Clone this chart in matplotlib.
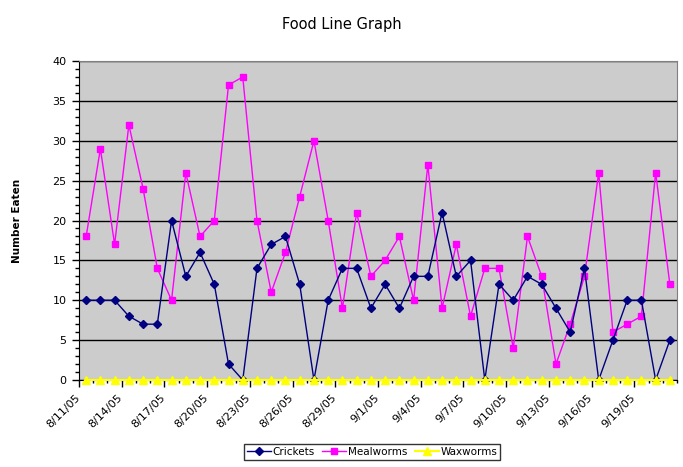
import matplotlib
matplotlib.use('Agg')
import matplotlib.pyplot as plt
import numpy as np
from datetime import date, timedelta

# Daily dates 8/11/05 .. 9/21/05
start = date(2005, 8, 11)
n_days = 42
dates = [start + timedelta(days=i) for i in range(n_days)]
date_labels = [f"{d.month}/{d.day}/05" for d in dates]

crickets = [10, 10, 10, 8, 7, 7, 20, 13, 16, 12, 2, 0, 14, 17, 18, 12, 0, 10, 14, 14, 9,
            12, 9, 13, 13, 21, 13, 15, 0, 12, 10, 13, 12, 9, 6, 14, 0, 5, 10, 10, 0, 5]
mealworms = [18, 29, 17, 32, 24, 14, 10, 26, 18, 20, 37, 38, 20, 11, 16, 23, 30, 20, 9, 21, 13,
             15, 18, 10, 27, 9, 17, 8, 14, 14, 4, 18, 13, 2, 7, 13, 26, 6, 7, 8, 26, 12]
waxworms = [0] * n_days

fig = plt.figure(figsize=(6.83, 4.67), dpi=100)
ax = fig.add_axes([0.1157, 0.1863, 0.8755, 0.683])
ax.set_facecolor('#CCCCCC')

x = np.arange(n_days)
ax.plot(x, crickets, color='#000080', lw=1, marker='D', ms=4, label='Crickets', zorder=4, clip_on=False)
ax.plot(x, mealworms, color='#FF00FF', lw=1, marker='s', ms=5, label='Mealworms', zorder=3, clip_on=False)
ax.plot(x, waxworms, color='#FFFF00', lw=1.5, marker='^', ms=6, label='Waxworms', zorder=5, clip_on=False)

ax.set_xlim(-0.45, n_days - 0.55)
ax.set_ylim(0, 40)

# Y axis
ax.set_yticks(np.arange(0, 41, 5))
ax.set_yticks(np.arange(0, 41, 1), minor=True)
ax.yaxis.grid(True, color='black', lw=1)
ax.set_axisbelow(True)
ax.tick_params(axis='y', which='major', direction='out', length=5, width=1, labelsize=8, pad=4)
ax.tick_params(axis='y', which='minor', direction='out', length=3, width=1)
ax.set_ylabel('Number Eaten', fontsize=7.5, fontweight='bold', labelpad=22)

# X axis: major ticks at category boundaries every 3, labels near categories
label_idx = list(range(0, n_days, 3))
ax.set_xticks([i - 0.5 for i in label_idx])
ax.set_xticklabels([])
ax.set_xticks(np.arange(-0.5, n_days, 1), minor=True)
ax.tick_params(axis='x', which='major', direction='out', length=5, width=1)
ax.tick_params(axis='x', which='minor', direction='out', length=2, width=1)
for i in label_idx:
    ax.text(i - 0.8, -1.6, date_labels[i], rotation=45, ha='right', va='top',
            rotation_mode='anchor', fontsize=8, transform=ax.transData)

for side in ['top', 'right']:
    ax.spines[side].set_color('#808080')
for side in ['left', 'bottom']:
    ax.spines[side].set_color('black')

fig.text(0.5, 0.948, 'Food Line Graph', ha='center', va='center', fontsize=10.5)

leg = ax.legend(loc='center', bbox_to_anchor=(0.545, 0.032), bbox_transform=fig.transFigure,
                ncol=3, fontsize=7.5, frameon=True, fancybox=False, edgecolor='black',
                handlelength=2.3, handletextpad=0.2, columnspacing=0.7, borderpad=0.25)
leg.get_frame().set_linewidth(1)

fig.savefig('out.png', dpi=100)
